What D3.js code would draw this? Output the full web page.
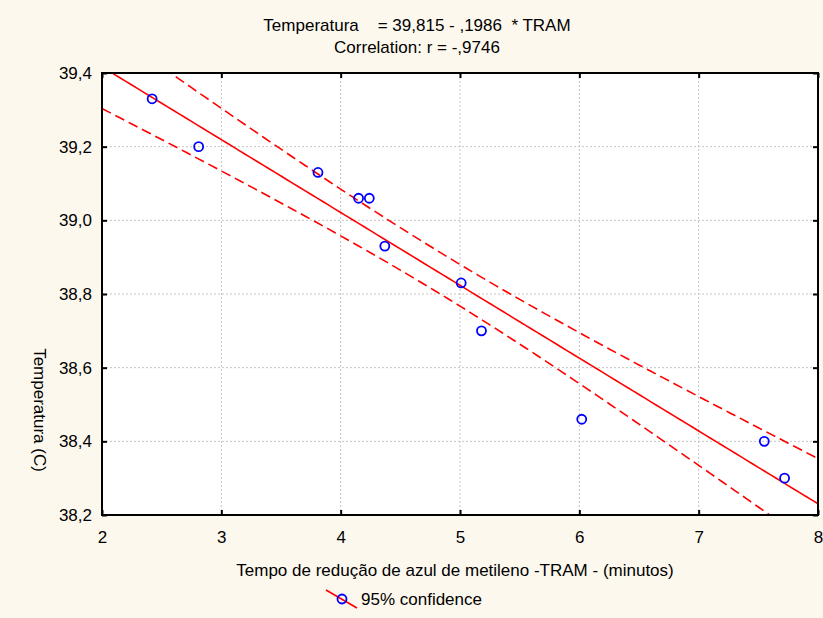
<!DOCTYPE html>
<html>
<head>
<meta charset="utf-8">
<script src="https://cdn.jsdelivr.net/npm/d3@7"></script>
<style>
  html, body { margin: 0; padding: 0; background: #FDF8EE; }
  svg { display: block; font-family: "Liberation Sans", Arial, sans-serif; }
</style>
</head>
<body>
<svg id="chart" width="823" height="618"></svg>
<script>
// ---- data ----
const tramValues = [2.42, 2.81, 3.81, 4.15, 4.24, 4.37, 5.01, 5.18, 6.02, 7.55, 7.72];
const tempValues = [39.33, 39.20, 39.13, 39.06, 39.06, 38.93, 38.83, 38.70, 38.46, 38.40, 38.30];
const xTicks = [2, 3, 4, 5, 6, 7, 8];
const yTicks = [38.2, 38.4, 38.6, 38.8, 39.0, 39.2, 39.4];
const titleLines = ["Temperatura    = 39,815 - ,1986  * TRAM", "Correlation: r = -,9746"];
const xTitle = "Tempo de redução de azul de metileno -TRAM - (minutos)";
const yTitle = "Temperatura (C)";
const legendLabel = "95% confidence";

// ---- layout ----
const FS = 17;
const svg = d3.select("#chart");
const L = 102, R = 818, T = 73, B = 515;
const x = d3.scaleLinear().domain([2, 8]).range([L, R]);
const y = d3.scaleLinear().domain([38.2, 39.4]).range([B, T]);
const fmt = d => d.toFixed(1).replace(".", ",");

// background
svg.append("rect").attr("width", 823).attr("height", 618).attr("fill", "#FDF8EE");
svg.append("rect").attr("x", L).attr("y", T).attr("width", R - L).attr("height", B - T).attr("fill", "#ffffff");

// clip
svg.append("defs").append("clipPath").attr("id", "clip")
  .append("rect").attr("x", L).attr("y", T).attr("width", R - L).attr("height", B - T);

// grid
const grid = svg.append("g").attr("stroke", "#c4c4c4").attr("stroke-width", 1).attr("stroke-dasharray", "2,2");
grid.selectAll(".gx").data(xTicks.slice(1, -1)).join("line")
  .attr("x1", d => x(d)).attr("x2", d => x(d)).attr("y1", T).attr("y2", B);
grid.selectAll(".gy").data(yTicks.slice(1, -1)).join("line")
  .attr("y1", d => y(d)).attr("y2", d => y(d)).attr("x1", L).attr("x2", R);

// regression
const n = tramValues.length;
const mx = d3.mean(tramValues), my = d3.mean(tempValues);
let sxx = 0, sxy = 0;
for (let i = 0; i < n; i++) { sxx += (tramValues[i] - mx) ** 2; sxy += (tramValues[i] - mx) * (tempValues[i] - my); }
const slope = sxy / sxx, icpt = my - slope * mx;
let sse = 0;
for (let i = 0; i < n; i++) { sse += (tempValues[i] - (icpt + slope * tramValues[i])) ** 2; }
const s = Math.sqrt(sse / (n - 2));
const tcrit = 2.262;
const xs = d3.range(0, 121).map(i => 2 + i * 6 / 120);
const band = sign => xs.map(xv => [xv, icpt + slope * xv + sign * tcrit * s * Math.sqrt(1 / n + (xv - mx) ** 2 / sxx)]);
const line = d3.line().x(d => x(d[0])).y(d => y(d[1])).curve(d3.curveLinear);

const plot = svg.append("g").attr("clip-path", "url(#clip)");
plot.append("path").datum(xs.map(xv => [xv, icpt + slope * xv]))
  .attr("d", line).attr("fill", "none").attr("stroke", "#ff0000").attr("stroke-width", 1.6);
[1, -1].forEach(sg => {
  plot.append("path").datum(band(sg))
    .attr("d", line).attr("fill", "none").attr("stroke", "#ff0000").attr("stroke-width", 1.6)
    .attr("stroke-dasharray", "10,5");
});

// points
plot.selectAll("circle.pt").data(tramValues.map((v, i) => [v, tempValues[i]])).join("circle")
  .attr("cx", d => x(d[0])).attr("cy", d => y(d[1])).attr("r", 4.5)
  .attr("fill", "none").attr("stroke", "#0000ff").attr("stroke-width", 1.8);

// frame
svg.append("rect").attr("x", L).attr("y", T).attr("width", R - L).attr("height", B - T)
  .attr("fill", "none").attr("stroke", "#000").attr("stroke-width", 2);

// axes with inner ticks
const axB = d3.axisBottom(x).tickValues(xTicks).tickSize(-5).tickPadding(16).tickFormat(d3.format("d"));
const axT = d3.axisTop(x).tickValues(xTicks).tickSize(-5).tickFormat("");
const axL = d3.axisLeft(y).tickValues(yTicks).tickSize(-5).tickPadding(10).tickFormat(fmt);
const axR = d3.axisRight(y).tickValues(yTicks).tickSize(-5).tickFormat("");
function styleAxis(g) {
  g.select(".domain").remove();
  g.selectAll(".tick line").attr("stroke", "#000").attr("stroke-width", 2);
  g.selectAll(".tick text").attr("fill", "#000").attr("font-size", FS)
    .attr("font-family", "'Liberation Sans', Arial, sans-serif");
}
svg.append("g").attr("transform", `translate(0,${B})`).call(axB).call(styleAxis);
svg.append("g").attr("transform", `translate(0,${T})`).call(axT).call(styleAxis);
svg.append("g").attr("transform", `translate(${L},0)`).call(axL).call(styleAxis);
svg.append("g").attr("transform", `translate(${R},0)`).call(axR).call(styleAxis);

// titles
svg.selectAll("text.title").data(titleLines).join("text")
  .attr("x", 417).attr("y", (d, i) => 31 + i * 22).attr("text-anchor", "middle")
  .attr("font-size", FS).attr("fill", "#000").style("white-space", "pre").text(d => d);

svg.append("text").attr("x", 455).attr("y", 576).attr("text-anchor", "middle")
  .attr("font-size", FS).attr("fill", "#000").text(xTitle);

svg.append("text").attr("transform", "translate(34,410) rotate(90)").attr("text-anchor", "middle")
  .attr("font-size", FS).attr("fill", "#000").text(yTitle);

// legend
const lg = svg.append("g");
lg.append("line").attr("x1", 326).attr("y1", 590).attr("x2", 357).attr("y2", 608)
  .attr("stroke", "#ff0000").attr("stroke-width", 1.6);
lg.append("circle").attr("cx", 342).attr("cy", 599).attr("r", 4.5)
  .attr("fill", "none").attr("stroke", "#0000ff").attr("stroke-width", 1.8);
lg.append("text").attr("x", 361).attr("y", 605).attr("font-size", FS).attr("fill", "#000").text(legendLabel);
</script>
</body>
</html>
